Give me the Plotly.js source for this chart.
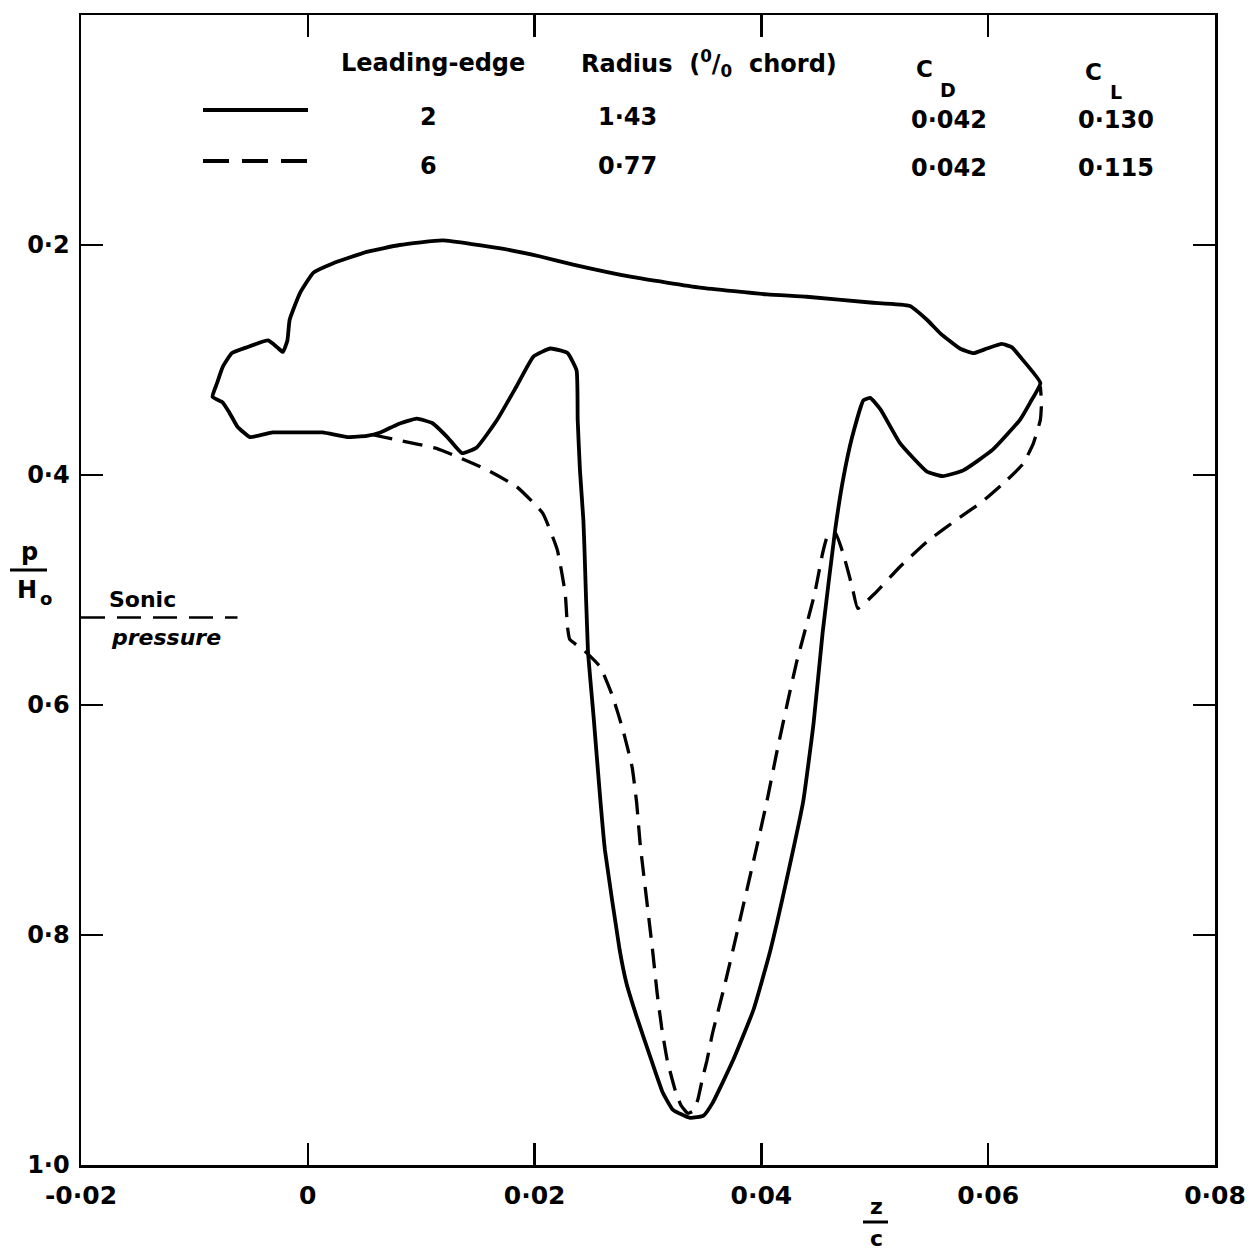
<!DOCTYPE html>
<html><head><meta charset="utf-8">
<script src="https://cdn.plot.ly/plotly-3.0.1.min.js"></script>
<style>body{margin:0;background:#fff}</style>
</head><body><div id="chart" style="width:1252px;height:1251px"></div>
<script>
// Leading-edge 2 (solid): closed loop, upper path left->right then lower path right->left
const solidX = [-0.0084,-0.0080,-0.0075,-0.0067,-0.0054,-0.0035,-0.0027,-0.0022,-0.0018,-0.0016,-0.0007,0.0005,0.0022,0.0052,0.0081,0.0119,0.0170,0.0205,0.0234,0.0287,0.0346,0.0405,0.0440,0.0496,0.0531,0.0546,0.0558,0.0575,0.0587,0.0599,0.0612,0.0621,0.0628,0.0646,
  0.0637,0.0628,0.0604,0.0578,0.0560,0.0546,0.0522,0.0505,0.0496,0.0490,0.0480,0.0472,0.0465,0.0454,0.0446,0.0437,0.0428,0.0408,0.0393,0.0375,0.0357,0.0349,0.0337,0.0322,0.0313,0.0302,0.0290,0.0281,0.0275,0.0262,0.0258,0.0252,0.0247,0.0244,0.0243,0.0240,0.0238,0.0237,0.0229,0.0214,0.0199,0.0184,0.0167,0.0149,0.0136,0.0123,0.0110,0.0096,0.0079,0.0064,0.0052,0.0035,0.0013,-0.0010,-0.0031,-0.0051,-0.0062,-0.0069,-0.0075,-0.0084];
const solidY = [0.332,0.320,0.306,0.294,0.289,0.283,0.289,0.293,0.283,0.265,0.242,0.224,0.216,0.206,0.200,0.196,0.203,0.210,0.217,0.228,0.237,0.243,0.245,0.250,0.253,0.265,0.277,0.290,0.294,0.290,0.286,0.289,0.297,0.320,
  0.337,0.352,0.378,0.396,0.401,0.397,0.372,0.343,0.333,0.335,0.367,0.404,0.448,0.537,0.616,0.683,0.726,0.813,0.865,0.909,0.946,0.957,0.959,0.952,0.937,0.906,0.871,0.842,0.813,0.726,0.683,0.610,0.552,0.465,0.439,0.396,0.352,0.309,0.294,0.290,0.297,0.323,0.352,0.376,0.381,0.367,0.355,0.351,0.356,0.363,0.366,0.367,0.363,0.363,0.363,0.367,0.358,0.346,0.337,0.332];

// Leading-edge 6 (dashed)
const dashedX = [0.0057,0.0081,0.0114,0.0134,0.0155,0.0184,0.0207,0.0220,0.0227,0.0229,0.0231,0.0243,0.0258,0.0269,0.0278,0.0286,0.0290,0.0293,0.0304,0.0308,0.0312,0.0317,0.0324,0.0329,0.0335,0.0340,0.0344,0.0348,0.0352,0.0357,0.0366,0.0374,0.0396,0.0405,0.0414,0.0423,0.0431,0.0438,0.0447,0.0454,0.0458,0.0465,0.0472,0.0480,0.0485,0.0500,0.0522,0.0546,0.0572,0.0595,0.0617,0.0631,0.0640,0.0646,0.0647,0.0646];
const dashedY = [0.365,0.370,0.377,0.385,0.394,0.410,0.433,0.465,0.503,0.532,0.543,0.552,0.567,0.593,0.622,0.654,0.685,0.720,0.813,0.850,0.880,0.909,0.935,0.948,0.955,0.953,0.943,0.925,0.909,0.885,0.850,0.817,0.723,0.683,0.639,0.598,0.563,0.537,0.503,0.468,0.454,0.450,0.468,0.497,0.516,0.503,0.480,0.458,0.439,0.423,0.404,0.390,0.372,0.352,0.337,0.323];

// Sonic pressure level
const sonicX = [-0.02, -0.0062];
const sonicP = 0.524;

// Ticks
const xTickVals = [-0.02, 0, 0.02, 0.04, 0.06, 0.08];
const xTickText = ['-0·02', '0', '0·02', '0·04', '0·06', '0·08'];
const yTickVals = [0.2, 0.4, 0.6, 0.8, 1.0];
const yTickText = ['0·2', '0·4', '0·6', '0·8', '1·0'];

// Key table
const leadingEdge = ['2', '6'];
const radius = ['1·43', '0·77'];
const cD = ['0·042', '0·042'];
const cL = ['0·130', '0·115'];

const FONT = 'DejaVu Sans, sans-serif';
const INK = '#000';

const traces = [
  {x: solidX, y: solidY, mode: 'lines', line: {color: INK, width: 3.8, shape: 'spline', smoothing: 0.4}, showlegend: false, hoverinfo: 'skip'},
  {x: dashedX, y: dashedY, mode: 'lines', line: {color: INK, width: 3.3, dash: '20px,11px', shape: 'spline', smoothing: 0.4}, showlegend: false, hoverinfo: 'skip'},
  {x: sonicX, y: sonicX.map(() => sonicP), mode: 'lines', line: {color: INK, width: 2.5, dash: '24px,12px'}, showlegend: false, hoverinfo: 'skip'}
];

// paper helpers (plot area: left 81, right 1215, top 15, bottom 1165)
const px = v => (v - 81) / 1134;
const py = v => (1165 - v) / 1150;

const ann = (text, x, y, size, extra) => Object.assign({
  text: text, xref: 'paper', yref: 'paper', x: px(x), y: py(y),
  xanchor: 'center', yanchor: 'middle', showarrow: false,
  font: {family: FONT, size: size, color: INK, weight: 'bold'}
}, extra || {});

const NB = '\u00A0';
const annotations = [
  ann('Leading-edge', 433, 63, 24),
  ann('Radius' + NB + NB + '(<sup>0</sup>/<sub>0</sub>' + NB + NB + 'chord)', 709, 63, 24),
  ann('C', 924, 69, 23),
  ann('D', 948, 90, 19),
  ann('C', 1093, 72, 23),
  ann('L', 1116, 92, 19),
  ann('p', 29, 552, 24),
  ann('H', 27, 590, 24),
  ann('o', 46, 598, 18),
  ann('Sonic', 142, 599, 22),
  ann('<i>pressure</i>', 166, 637, 22),
  ann('z', 876, 1206, 22),
  ann('c', 876, 1238, 22)
];
const rowY = [[117, 120], [166, 168]];
for (let i = 0; i < 2; i++) {
  annotations.push(ann(leadingEdge[i], 428, rowY[i][0], 24));
  annotations.push(ann(radius[i], 627, rowY[i][0], 24));
  annotations.push(ann(cD[i], 949, rowY[i][1], 24));
  annotations.push(ann(cL[i], 1116, rowY[i][1], 24));
}

const shapes = [
  {type: 'line', xref: 'paper', yref: 'paper', x0: px(203), x1: px(308), y0: py(110), y1: py(110), line: {color: INK, width: 3.8}},
  {type: 'line', xref: 'paper', yref: 'paper', x0: px(203), x1: px(310), y0: py(161), y1: py(161), line: {color: INK, width: 3.8, dash: '26px,13px'}},
  {type: 'line', xref: 'paper', yref: 'paper', x0: px(10), x1: px(47), y0: py(570), y1: py(570), line: {color: INK, width: 3}},
  {type: 'line', xref: 'paper', yref: 'paper', x0: px(863), x1: px(888), y0: py(1222), y1: py(1222), line: {color: INK, width: 3}}
];

const axisCommon = {
  showline: true, linecolor: INK, linewidth: 2.5, mirror: 'ticks',
  ticks: 'inside', ticklen: 22, tickwidth: 2.5, tickcolor: INK,
  showgrid: false, zeroline: false, tickmode: 'array',
  tickfont: {family: FONT, size: 24, color: INK, weight: 'bold'}
};

const layout = {
  width: 1252, height: 1251,
  margin: {l: 81, r: 37, t: 15, b: 86},
  paper_bgcolor: '#fff', plot_bgcolor: '#fff',
  showlegend: false,
  xaxis: Object.assign({}, axisCommon, {range: [-0.02, 0.08], tickvals: xTickVals, ticktext: xTickText, ticklabelstandoff: 6,
    tickfont: {family: FONT, size: 25, color: INK, weight: 'bold'}}),
  yaxis: Object.assign({}, axisCommon, {range: [1.0, 0.0], tickvals: yTickVals, ticktext: yTickText, ticklabelstandoff: 4}),
  annotations: annotations,
  shapes: shapes
};

Plotly.newPlot('chart', traces, layout, {staticPlot: true, displayModeBar: false});
</script></body></html>
